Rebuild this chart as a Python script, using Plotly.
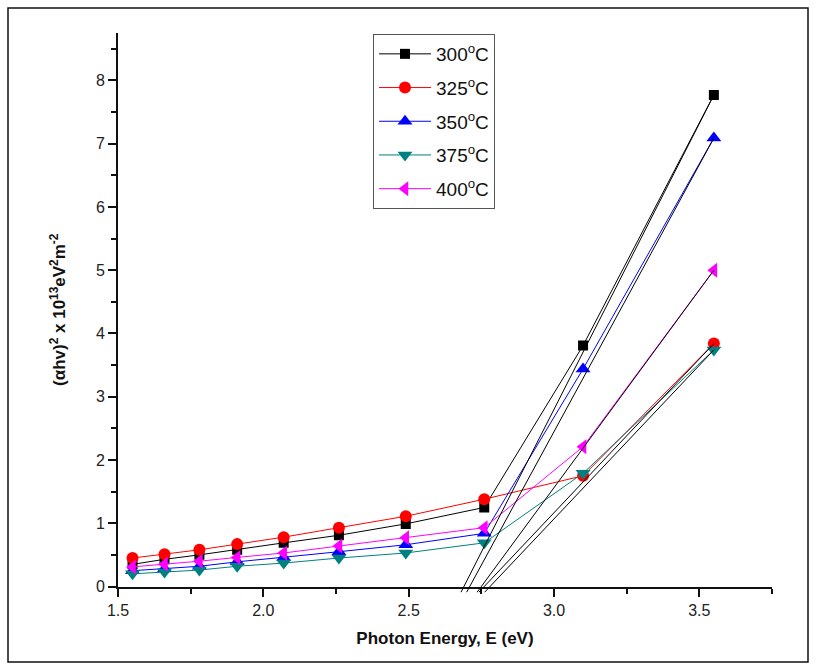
import plotly.graph_objects as go

# Photon energy (eV) of each measurement
energy = [1.55, 1.66, 1.78, 1.91, 2.07, 2.26, 2.49, 2.76, 3.10, 3.55]

# (alpha*h*nu)^2 in units of 1e13 eV^2 m^-2 for each annealing temperature
series_names = ["300<sup>o</sup>C", "325<sup>o</sup>C", "350<sup>o</sup>C", "375<sup>o</sup>C", "400<sup>o</sup>C"]
ahv_300 = [0.35, 0.43, 0.50, 0.58, 0.69, 0.81, 0.99, 1.25, 3.81, 7.77]
ahv_325 = [0.45, 0.51, 0.58, 0.67, 0.78, 0.93, 1.11, 1.38, 1.75, 3.84]
ahv_350 = [0.25, 0.28, 0.32, 0.39, 0.46, 0.55, 0.66, 0.84, 3.44, 7.09]
ahv_375 = [0.20, 0.23, 0.26, 0.32, 0.37, 0.45, 0.53, 0.69, 1.79, 3.74]
ahv_400 = [0.31, 0.35, 0.40, 0.46, 0.53, 0.64, 0.77, 0.93, 2.21, 5.00]

# Optical band gaps from the linear extrapolation of the high-energy region (eV)
band_gap = [2.69, 2.76, 2.71, 2.78, 2.75]

colors = ["#000000", "#FF0000", "#0000FF", "#008080", "#FF00FF"]
symbols = ["square", "circle", "triangle-up", "triangle-down", "triangle-left"]
sizes = [10, 12, 13, 13, 13]
all_series = [ahv_300, ahv_325, ahv_350, ahv_375, ahv_400]

# layout geometry
W, H = 817, 670
ML, MR, MT, MB = 118, 45, 33, 76
plot_h = H - MT - MB
x_range = [1.5, 3.75]
y_top = 8.75
y_dom0 = 7.5 / plot_h            # main y axis starts a little above the plot-area bottom
y2_low = -y_dom0 * y_top / (1 - y_dom0)   # same scale, extended below zero for the fit lines
fit_low = -0.09

fig = go.Figure()

# extrapolation lines (band-gap fits), drawn on an axis sharing the same scale
for eg, ys in zip(band_gap, all_series):
    x_end, y_end = energy[-1], ys[-1]
    slope = y_end / (x_end - eg)
    x_start = eg + fit_low / slope
    fig.add_trace(go.Scatter(
        x=[x_start, x_end], y=[fit_low, y_end], mode="lines",
        line=dict(color="#000000", width=1), xaxis="x", yaxis="y2",
        showlegend=False, hoverinfo="skip"))

for name, ys, c, s, sz in zip(series_names, all_series, colors, symbols, sizes):
    fig.add_trace(go.Scatter(
        x=energy, y=ys, name=name, legendgroup=name, mode="lines+markers",
        line=dict(color=c, width=1),
        marker=dict(symbol=s, size=sz, color=c, line=dict(width=0)),
        xaxis="x", yaxis="y"))

axis_font = dict(family="Liberation Sans, Arial, sans-serif", size=16, color="#222222")
title_font = dict(family="Liberation Sans, Arial, sans-serif", size=17, color="#111111")

fig.update_layout(
    width=W, height=H,
    margin=dict(l=ML, r=MR, t=MT, b=MB),
    paper_bgcolor="white", plot_bgcolor="rgba(0,0,0,0)",
    font=dict(family="Liberation Sans, Arial, sans-serif", color="#111111"),
    xaxis=dict(
        range=x_range, anchor="y", showgrid=False, zeroline=False,
        showline=True, linecolor="#111111", linewidth=2,
        ticks="outside", ticklen=8, tickwidth=2, tickcolor="#111111",
        tickvals=[1.5, 2.0, 2.5, 3.0, 3.5], ticktext=["1.5", "2.0", "2.5", "3.0", "3.5"],
        minor=dict(ticks="outside", ticklen=5, tickwidth=2, tickcolor="#111111",
                   tickvals=[1.75, 2.25, 2.75, 3.25, 3.75]),
        tickfont=axis_font,
        title=dict(text="<b>Photon Energy, E (eV)</b>", font=title_font, standoff=14),
    ),
    yaxis=dict(
        range=[0, y_top], domain=[y_dom0, 1], anchor="x", showgrid=False, zeroline=False,
        showline=True, linecolor="#111111", linewidth=2,
        ticks="outside", ticklen=8, tickwidth=2, tickcolor="#111111",
        tickvals=list(range(0, 9)),
        minor=dict(ticks="outside", ticklen=5, tickwidth=2, tickcolor="#111111",
                   tickvals=[0.5 + i for i in range(9)]),
        tickfont=axis_font,
        title=dict(text="<b>(αhv)<sup>2</sup> x 10<sup>13</sup>eV<sup>2</sup>m<sup>-2</sup></b>",
                   font=title_font, standoff=26),
    ),
    yaxis2=dict(range=[y2_low, y_top], domain=[0, 1], anchor="x", visible=False,
                showgrid=False, zeroline=False),
    legend=dict(
        x=(373 - ML) / (W - ML - MR), y=(H - MB - 34) / plot_h,
        xanchor="left", yanchor="top",
        bordercolor="#555555", borderwidth=1, bgcolor="white",
        font=dict(family="Liberation Sans, Arial, sans-serif", size=19, color="#111111"),
        tracegroupgap=6, itemwidth=52,
    ),
    showlegend=True,
)

# thin frame around the whole figure
pw, ph = W - ML - MR, plot_h
fig.add_shape(type="rect", xref="paper", yref="paper",
              x0=(8 - ML) / pw, x1=(808 - ML) / pw,
              y0=(H - MB - 662) / ph, y1=(H - MB - 8) / ph,
              line=dict(color="#111111", width=1.5), fillcolor="rgba(0,0,0,0)", layer="below")

fig.write_html("out.html")
